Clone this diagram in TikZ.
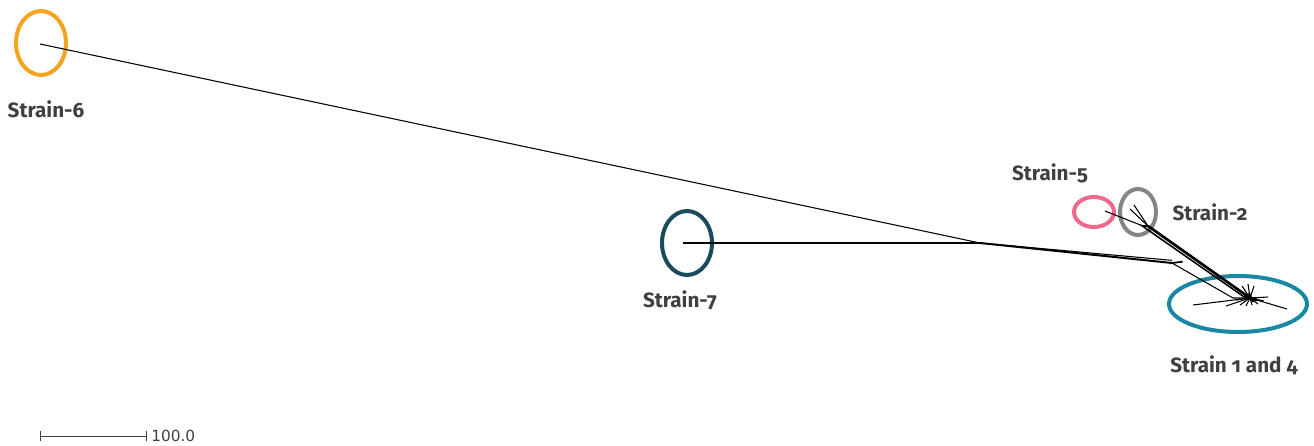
\documentclass[tikz,border=0pt]{standalone}
\usepackage{fontspec}
\setmainfont{Fira Sans}[Numbers=OldStyle]
\newfontfamily\scalefont{DejaVu Sans}
\definecolor{lblgray}{HTML}{404040}
\definecolor{corange}{HTML}{F4A51F}
\definecolor{cdteal}{HTML}{1A4A5B}
\definecolor{cpink}{HTML}{EE6A8A}
\definecolor{cgray}{HTML}{858587}
\definecolor{cteal}{HTML}{1A88A2}
\tikzset{
  branch/.style={black, line width=0.8pt},
  ring/.style={line width=3pt},
  lbl/.style={font=\bfseries\fontsize{15.5}{18}\selectfont, text=lblgray, inner sep=0pt},
}
\begin{document}
\begin{tikzpicture}[x=0.75pt,y=-0.75pt]
\useasboundingbox (0,0) rectangle (1314,446);
% coordinates of tree
\coordinate (l6) at (40,44);
\coordinate (l7) at (683,243);
\coordinate (n1) at (980,243);
\coordinate (n2) at (1172,263);
\coordinate (c) at (1250,298);
\coordinate (l5) at (1105,211);
\coordinate (j5) at (1143,226);
\coordinate (l2) at (1130,209);
\coordinate (j2) at (1148,226);
\coordinate (s1) at (1193,305);
\coordinate (s2) at (1287,309);
% ellipses
\draw[ring, corange] (41,43) ellipse [x radius=25, y radius=32];
\draw[ring, cdteal] (687,243) ellipse [x radius=25, y radius=32];
\draw[ring, cpink] (1094,212) ellipse [x radius=20, y radius=15];
\draw[ring, cgray] (1138,212) ellipse [x radius=18, y radius=23];
\draw[ring, cteal] (1238,304) ellipse [x radius=69, y radius=28];
% branches
\draw[branch] (l6) -- (n1);
\draw[branch] (l7) -- (n1);
\draw[branch, line width=1.5pt] (n1) -- (n2);
\draw[branch] (n1) -- ([yshift=2]n2);
\draw[branch] (n2) -- (1233,298) -- (c);
\draw[branch, line width=1.3pt] (n2) -- ([xshift=8,yshift=1]n2);
\draw[branch] (l5) -- (j5);
\draw[branch] (l2) -- (j2);
\draw[branch] (1134,205) -- (j2);
\draw[branch, line width=2pt] (j2) -- (c);
\draw[branch] ([xshift=-4]j2) -- ([xshift=-3]c);
\draw[branch] ([xshift=-6,yshift=1]j2) -- ([xshift=-5,yshift=1]c);
\draw[branch] (j5) -- (j2);
% star
\draw[branch] (c) -- (s1);
\draw[branch] (c) -- (s2);
\draw[branch] (c) -- (1226,306);
\draw[branch] (c) -- (1242,286);
\draw[branch] (c) -- (1248,284);
\draw[branch] (c) -- (1254,286);
\draw[branch] (c) -- (1268,297);
\draw[branch] (c) -- (1264,301);
\draw[branch] (c) -- (1258,304);
\draw[branch] (c) -- (1252,305);
\draw[branch] (c) -- (1246,306);
\draw[branch] (c) -- (1240,305);
\draw[branch] (c) -- (1236,300);
\draw[branch, line width=2pt] (1244,296) -- (1257,300);
\draw[branch, line width=1.5pt] (1249,293) -- (1253,302);
% labels
\node[lbl] (t6) at (46,109) {Strain-6};
\node[lbl] (t7) at (680,300) {Strain-7};
\node[lbl] (t5) at (1050,173) {Strain-5};
\node[lbl] (t2) at (1210,212) {Strain-2};
\node[lbl] (t14) at (1234,365) {Strain 1 and 4};
% scale bar
\coordinate (sa) at (40,436);
\coordinate (sb) at (146,436);
\draw[line width=0.6pt, black!75] (sa) -- (sb);
\draw[line width=0.6pt, black!75] ([yshift=-4]sa) -- ([yshift=4]sa);
\draw[line width=0.6pt, black!75] ([yshift=-4]sb) -- ([yshift=4]sb);
\node[anchor=west, inner sep=0pt, font=\scalefont\fontsize{11.5}{13}\selectfont, text=black!75] (sl) at (151,436) {100.0};
\end{tikzpicture}
\end{document}
